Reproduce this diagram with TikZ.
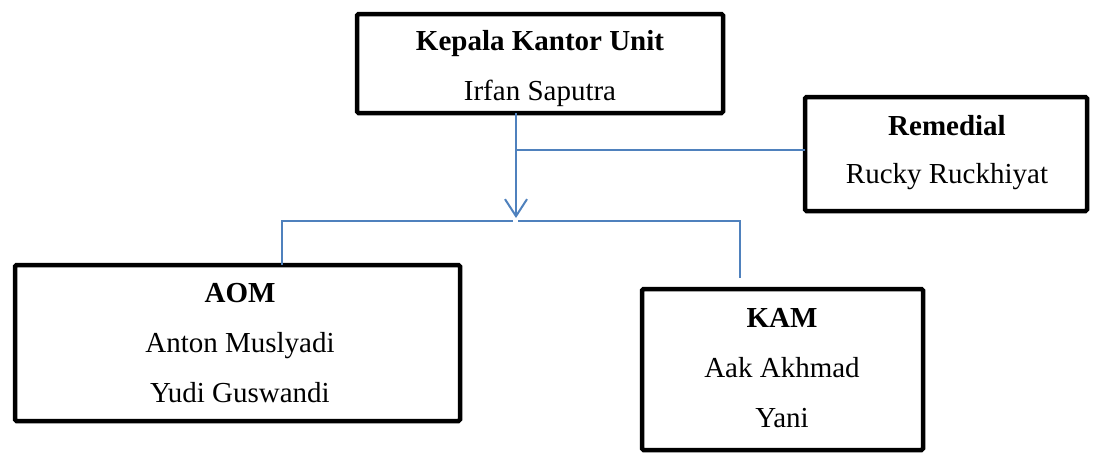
\documentclass[tikz,border=0pt]{standalone}
\usepackage{fontspec}
\setmainfont{Liberation Serif}
\usetikzlibrary{arrows.meta,calc}
\definecolor{lineblue}{RGB}{79,129,189}
\begin{document}
\begin{tikzpicture}[x=1pt,y=-1pt,
  box/.style={draw=black,line width=4.5pt,rounded corners=1.5pt,inner sep=0pt,outer sep=0pt,fill=white},
  txt/.style={anchor=base,inner sep=0pt,font=\fontsize{29}{34}\selectfont},
  btxt/.style={txt,font=\fontsize{29}{34}\selectfont\bfseries},
  conn/.style={draw=lineblue,line width=2pt},
  tipstyle/.style={-{Straight Barb[length=17pt,width=22pt,line width=2pt]}}]
\useasboundingbox (0,0) rectangle (1093,453);
\fill[white] (0,0) rectangle (1093,453);
% boxes
\node[box,minimum width=366pt,minimum height=99pt] (top) at (540,63.5) {};
\node[box,minimum width=282pt,minimum height=114pt] (rem) at (946,154) {};
\node[box,minimum width=445pt,minimum height=156pt] (aom) at (237.5,343) {};
\node[box,minimum width=281pt,minimum height=161pt] (kam) at (782.5,369.5) {};
% texts
\node[btxt] (topa) at (540,50) {Kepala Kantor Unit};
\node[txt]  (topb) at (540,100) {Irfan Saputra};
\node[btxt] (rema) at (947,135) {Remedial};
\node[txt]  (remb) at (947,183) {Rucky Ruckhiyat};
\node[btxt] (aoma) at (240,302) {AOM};
\node[txt]  (aomb) at (240,352) {Anton Muslyadi};
\node[txt]  (aomc) at (240,402) {Yudi Guswandi};
\node[btxt] (kama) at (782,327) {KAM};
\node[txt]  (kamb) at (782,377) {Aak Akhmad};
\node[txt]  (kamc) at (782,427) {Yani};
% connector points
\coordinate (jr) at (516,150);
\coordinate (tip) at (516,218);
\coordinate (bl) at (282,221);
\coordinate (gl) at (513,221);
\coordinate (gr) at (518,221);
\coordinate (br) at (740,221);
\coordinate (brend) at (740,278);
% connectors
\draw[conn,tipstyle] (top.south -| tip) -- (tip);
\draw[conn] (jr) -- (rem.west |- jr);
\draw[conn] (aom.north -| bl) -- (bl) -- (gl);
\draw[conn] (gr) -- (br) -- (brend);
\end{tikzpicture}
\end{document}
